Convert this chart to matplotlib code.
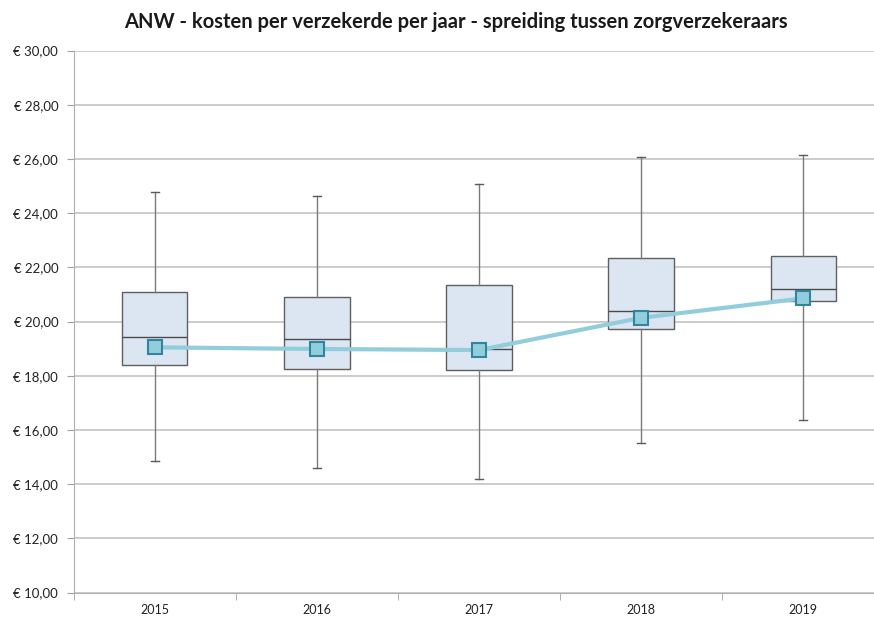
import numpy as np
import matplotlib
matplotlib.use('Agg')
import matplotlib.pyplot as plt

plt.rcParams['font.family'] = ['Lato', 'DejaVu Sans']

# Gegevens
jaren = ['2015', '2016', '2017', '2018', '2019']
minimum = [14.86, 14.61, 14.20, 15.51, 16.37]
kwartiel1 = [18.40, 18.26, 18.21, 19.72, 20.75]
mediaan = [19.44, 19.37, 18.98, 20.40, 21.19]
kwartiel3 = [21.08, 20.92, 21.35, 22.36, 22.43]
maximum = [24.79, 24.63, 25.08, 26.09, 26.16]
gemiddelde = [19.05, 18.99, 18.95, 20.14, 20.86]

W, H = 874, 619
fig = plt.figure(figsize=(W / 100, H / 100), dpi=100)
# plotgebied loopt rechts iets buiten het beeld (zoals in het origineel)
ax = fig.add_axes([73.5 / W, (H - 592.6) / H, 811 / W, 542 / H])

stats = []
for i, jaar in enumerate(jaren):
    stats.append({'whislo': minimum[i], 'q1': kwartiel1[i], 'med': mediaan[i],
                  'q3': kwartiel3[i], 'whishi': maximum[i], 'fliers': [],
                  'label': jaar})

pos = np.arange(1, len(jaren) + 1)
ax.bxp(stats, positions=pos, widths=0.405, patch_artist=True,
       showfliers=False, showcaps=True,
       boxprops=dict(facecolor='#dce6f2', edgecolor='#5f5f5f', linewidth=1.0),
       medianprops=dict(color='#4a4a4a', linewidth=1.0),
       whiskerprops=dict(color='#7a7a7a', linewidth=1.0),
       capprops=dict(color='#5a5a5a', linewidth=1.0),
       capwidths=0.05, zorder=3)

ax.plot(pos, gemiddelde, color='#92cddc', linewidth=3, marker='s',
        markersize=10, markerfacecolor='#92cddc', markeredgecolor='#31859c',
        markeredgewidth=1.5, zorder=4)

ax.set_xlim(0.5, 5.5)
ax.set_ylim(10, 30)
ax.set_yticks(np.arange(10, 31, 2))
ax.set_yticklabels([f'€ {v:.2f}'.replace('.', ',') for v in np.arange(10, 31, 2)])
ax.set_xticks(pos)
ax.set_xticklabels(jaren)
ax.set_xticks(np.arange(0.5, 5.6, 1), minor=True)
ax.tick_params(axis='x', which='major', length=0, labelsize=9, pad=8,
               labelcolor='#222222')
ax.tick_params(axis='x', which='minor', length=5, color='#a0a0a0')
ax.tick_params(axis='y', length=5, color='#a0a0a0', labelsize=9.5,
               labelcolor='#222222', pad=6)

ax.grid(axis='y', color='#c8c8c8', linewidth=1.3)
ax.set_axisbelow(True)
for s in ['top', 'right']:
    ax.spines[s].set_visible(False)
ax.spines['left'].set_color('#b0b0b0')
ax.spines['bottom'].set_color('#b0b0b0')

fig.text(456 / W, 1 - 22 / H,
         'ANW - kosten per verzekerde per jaar - spreiding tussen zorgverzekeraars',
         ha='center', va='center', fontsize=14.5, fontweight='bold', color='#1a1a1a')

plt.savefig('out.png', dpi=100)
